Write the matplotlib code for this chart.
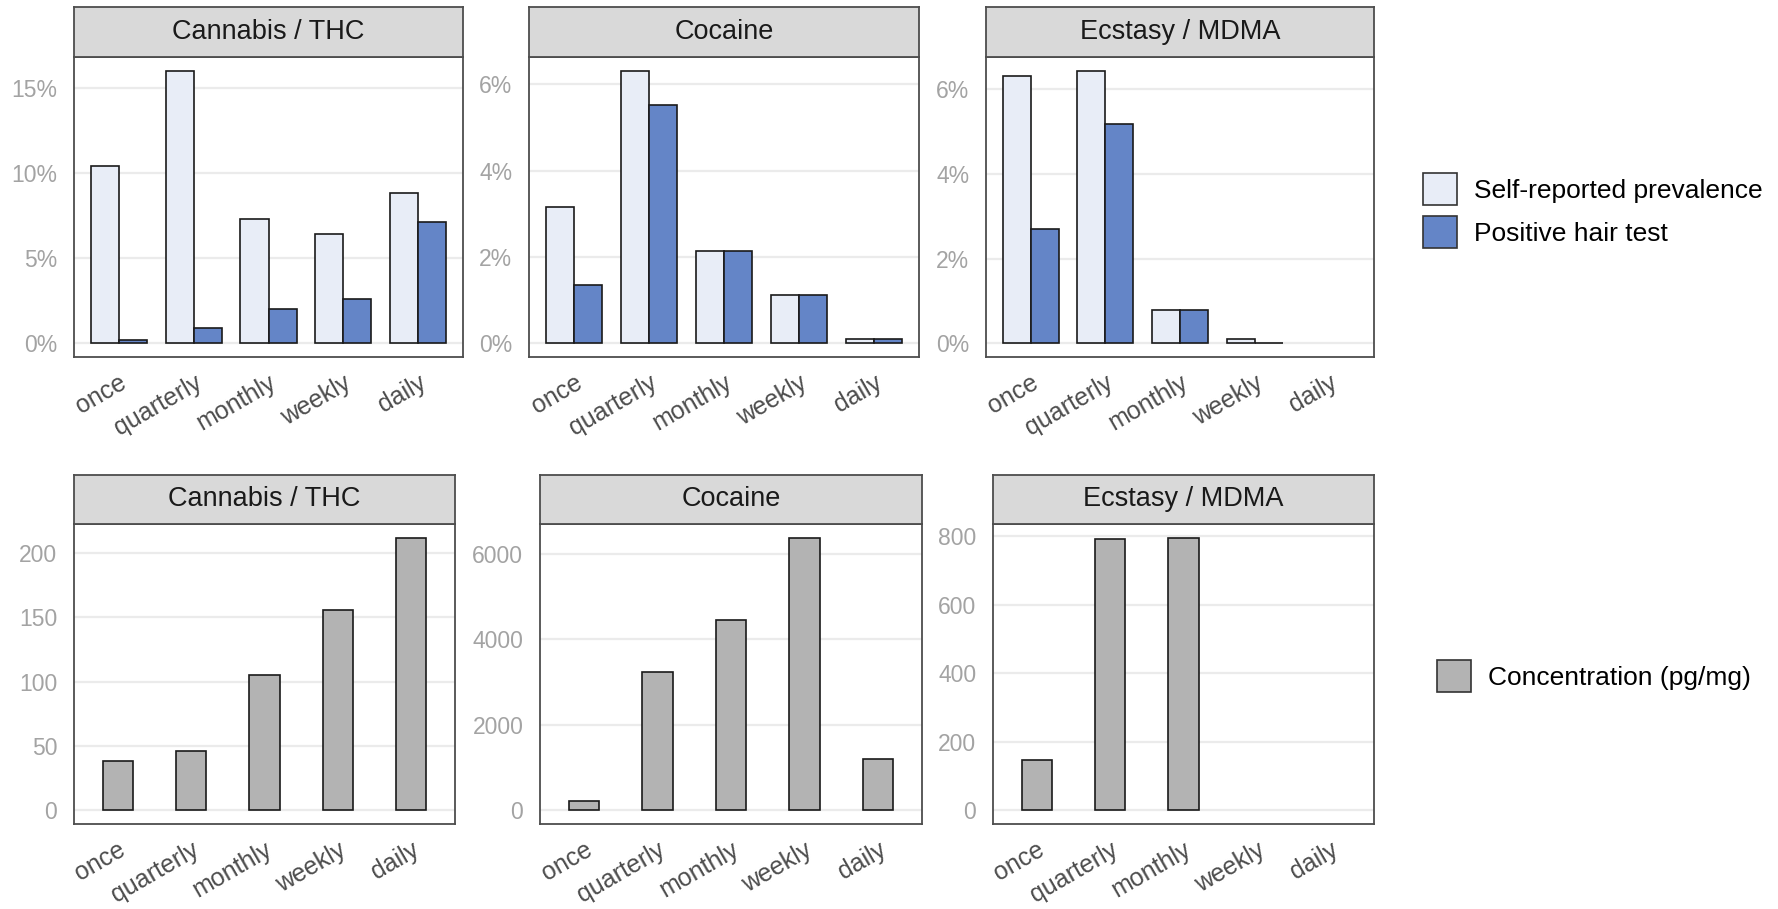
import matplotlib.pyplot as plt
import numpy as np
from matplotlib.patches import Patch
from matplotlib.ticker import FuncFormatter

plt.rcParams['font.family'] = ['Liberation Sans', 'DejaVu Sans']

categories = ['once', 'quarterly', 'monthly', 'weekly', 'daily']
drugs = ['Cannabis / THC', 'Cocaine', 'Ecstasy / MDMA']

# prevalence in %
thc_self = [10.4, 16.0, 7.3, 6.4, 8.8]
thc_hair = [0.2, 0.88, 2.0, 2.6, 7.1]
coc_self = [3.15, 6.32, 2.14, 1.12, 0.11]
coc_hair = [1.35, 5.52, 2.14, 1.12, 0.11]
mdma_self = [6.31, 6.43, 0.78, 0.11, np.nan]
mdma_hair = [2.70, 5.18, 0.78, 0.0, np.nan]

# concentration pg/mg
thc_conc = [38, 46, 105, 156, 212]
coc_conc = [218, 3234, 4441, 6374, 1208]
mdma_conc = [146, 791, 796, np.nan, np.nan]

top_ticks = [[0, 5, 10, 15], [0, 2, 4, 6], [0, 2, 4, 6]]
bottom_ticks = [[0, 50, 100, 150, 200], [0, 2000, 4000, 6000], [0, 200, 400, 600, 800]]

self_col = '#E8EDF7'
hair_col = '#6485C7'
conc_col = '#B3B3B3'
edge_col = '#1A1A1A'

W, H = 1778, 909
fig = plt.figure(figsize=(W / 100, H / 100), dpi=100)


def px_axes(x0, y0, x1, y1):
    return fig.add_axes([x0 / W, 1 - y1 / H, (x1 - x0) / W, (y1 - y0) / H])


def style_panel(ax, ticks, label, strip_box, fmt=None):
    ax.set_xlim(-0.6, 4.6)
    ax.set_yticks(ticks)
    if fmt:
        ax.yaxis.set_major_formatter(FuncFormatter(fmt))
    ax.set_xticks(range(len(categories)))
    ax.set_xticklabels(categories, rotation=30, ha='right', va='top',
                       rotation_mode='anchor', color='#4D4D4D', fontsize=18)
    ax.tick_params(axis='x', length=0, pad=10)
    ax.tick_params(axis='y', length=0, pad=12, labelcolor='#A3A3A3', labelsize=16.5)
    ax.grid(axis='y', color='#EBEBEB', linewidth=1.6)
    ax.set_axisbelow(True)
    for s in ax.spines.values():
        s.set_color('#4D4D4D')
        s.set_linewidth(1.3)
    st = px_axes(*strip_box)
    st.set_facecolor('#D9D9D9')
    st.set_xticks([])
    st.set_yticks([])
    for s in st.spines.values():
        s.set_color('#4D4D4D')
        s.set_linewidth(1.3)
    st.text(0.5, 0.5, label, ha='center', va='center', fontsize=19.5, color='#1A1A1A',
            transform=st.transAxes)


def nice_lim(ax, values):
    hi = np.nanmax(values)
    ax.set_ylim(-0.05 * hi, hi * 1.05)


x = np.arange(len(categories))
bw = 0.375

top_x = [(74, 463), (529, 919), (986, 1374)]
top_self = [thc_self, coc_self, mdma_self]
top_hair = [thc_hair, coc_hair, mdma_hair]
for i in range(3):
    x0, x1 = top_x[i]
    ax = px_axes(x0, 57, x1, 357)
    ax.bar(x - bw / 2, top_self[i], width=bw, color=self_col, edgecolor=edge_col, linewidth=1.2)
    ax.bar(x + bw / 2, top_hair[i], width=bw, color=hair_col, edgecolor=edge_col, linewidth=1.2)
    nice_lim(ax, top_self[i] + top_hair[i])
    style_panel(ax, top_ticks[i], drugs[i], (x0, 7, x1, 57), fmt=lambda v, p: f'{v:.0f}%')

bottom_x = [(74, 455), (540, 922), (993, 1374)]
conc = [thc_conc, coc_conc, mdma_conc]
for i in range(3):
    x0, x1 = bottom_x[i]
    ax = px_axes(x0, 524, x1, 824)
    ax.bar(x, conc[i], width=0.41, color=conc_col, edgecolor=edge_col, linewidth=1.2)
    nice_lim(ax, conc[i])
    style_panel(ax, bottom_ticks[i], drugs[i], (x0, 475, x1, 524), fmt=lambda v, p: f'{v:.0f}')

h1 = [Patch(facecolor=self_col, edgecolor='#333333', linewidth=1.2),
      Patch(facecolor=hair_col, edgecolor='#333333', linewidth=1.2)]
fig.legend(h1, ['Self-reported prevalence', 'Positive hair test'], loc='upper left',
           bbox_to_anchor=(1423 / W, 1 - 173 / H), frameon=False, fontsize=19,
           handlelength=1.3, handleheight=1.5, handletextpad=0.62, labelspacing=0.4,
           borderpad=0, borderaxespad=0)
h2 = [Patch(facecolor=conc_col, edgecolor='#333333', linewidth=1.2)]
fig.legend(h2, ['Concentration (pg/mg)'], loc='upper left',
           bbox_to_anchor=(1437 / W, 1 - 660 / H), frameon=False, fontsize=19,
           handlelength=1.3, handleheight=1.5, handletextpad=0.62,
           borderpad=0, borderaxespad=0)

fig.savefig('out.png', dpi=100, facecolor='white')
